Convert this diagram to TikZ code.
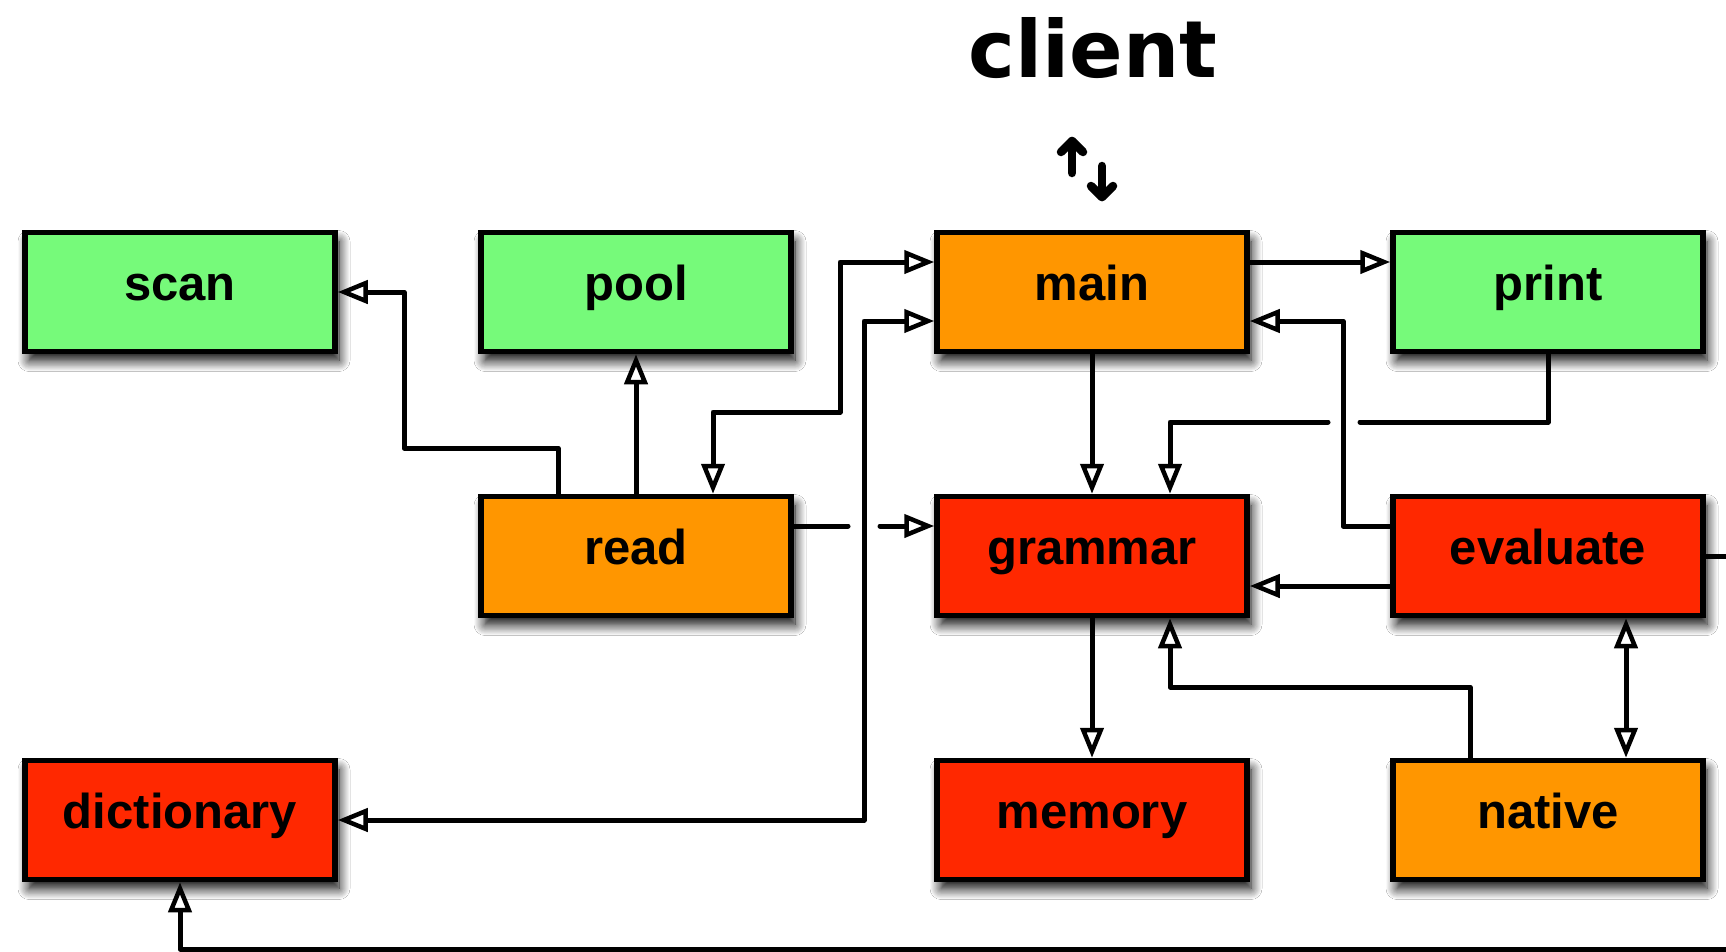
\documentclass[tikz,border=0pt]{standalone}
\usepackage{fontspec}
\setmainfont{Liberation Sans}
\newfontfamily\dejavu{DejaVu Sans}
\usetikzlibrary{arrows.meta,shadows.blur}
\definecolor{boxgreen}{HTML}{76FA7A}
\definecolor{boxorange}{HTML}{FF9600}
\definecolor{boxred}{HTML}{FF2800}
\tikzset{
  tri/.tip={Triangle[length=30pt,width=23pt,fill=white,line width=4.5pt]},
  box/.style={draw=black, line width=5.5pt, minimum width=310pt, minimum height=119pt,
    inner sep=0pt, text height=31pt, text depth=15pt,
    font=\fontsize{49}{50}\selectfont\bfseries,
    blur shadow={shadow xshift=4pt, shadow yshift=-9pt, shadow blur radius=11pt, shadow blur steps=12, shadow opacity=100}},
  gbox/.style={box, fill=boxgreen},
  obox/.style={box, fill=boxorange},
  rbox/.style={box, fill=boxred},
  conn/.style={line width=5pt, line join=round, line cap=round},
  updown/.style={line width=8.5pt, line join=round, line cap=round}
}
\begin{document}
\begin{tikzpicture}[x=1pt,y=-1pt]
\clip (0,0) rectangle (1726,951);
\fill[white] (0,0) rectangle (1726,951);

\node[anchor=base, font=\dejavu\bfseries\fontsize{79}{80}\selectfont] (client) at (1093,77) {client};
\draw[updown] (1072,173) -- (1072,141);
\draw[updown] (1061,152) -- (1072,141) -- (1083,152);
\draw[updown] (1102,166) -- (1102,197);
\draw[updown] (1091,186) -- (1102,197) -- (1113,186);

\node[gbox] (scan) at (180,292) {scan};
\node[gbox] (pool) at (636,292) {pool};
\node[obox] (main) at (1092,292) {main};
\node[gbox] (print) at (1548,292) {print};
\node[obox] (read) at (636,556) {read};
\node[rbox] (grammar) at (1092,556) {grammar};
\node[rbox] (evaluate) at (1548,556) {evaluate};
\node[rbox] (dictionary) at (180,820) {dictionary};
\node[rbox] (memory) at (1092,820) {memory};
\node[obox] (native) at (1548,820) {native};

\coordinate (rs) at (404,448);
\coordinate (rm) at (840,412);
\coordinate (dm) at (864,321);
\coordinate (ga) at (848,526);
\coordinate (gb) at (880,526);
\coordinate (pa) at (1360,422);
\coordinate (pb) at (1328,422);
\coordinate (em) at (1343,321);
\coordinate (ng) at (1170,687);
\coordinate (lr) at (1760,556);
\coordinate (lb) at (180,949);

% read -> scan
\draw[conn,-tri] ([xshift=-78pt]read.north) |- (rs) |- (scan.east);
% read -> pool
\draw[conn,-tri] (read.north) -- (pool.south);
% read <-> main
\draw[conn,tri-tri] ([xshift=77pt]read.north) |- (rm) |- ([yshift=30pt]main.west);
% dictionary <-> main
\draw[conn,tri-tri] (dictionary.east) -| (dm) -- ([yshift=-29pt]main.west);
% read -> grammar (with gap)
\draw[conn] ([yshift=30pt]read.east) -- (ga);
\draw[conn,-tri] (gb) -- ([yshift=30pt]grammar.west);
% main -> print
\draw[conn,-tri] ([yshift=30pt]main.east) -- ([yshift=30pt]print.west);
% main -> grammar
\draw[conn,-tri] (main.south) -- (grammar.north);
% print -> grammar (with gap)
\draw[conn] (print.south) |- (pa);
\draw[conn,-tri] (pb) -| ([xshift=78pt]grammar.north);
% evaluate -> main
\draw[conn,-tri] ([yshift=30pt]evaluate.west) -| (em) -- ([yshift=-29pt]main.east);
% evaluate -> grammar
\draw[conn,-tri] ([yshift=-30pt]evaluate.west) -- ([yshift=-30pt]grammar.east);
% native -> grammar
\draw[conn,-tri] ([xshift=-78pt]native.north) |- (ng) -- ([xshift=78pt]grammar.south);
% evaluate <-> native
\draw[conn,tri-tri] ([xshift=78pt]evaluate.south) -- ([xshift=78pt]native.north);
% grammar -> memory
\draw[conn,-tri] (grammar.south) -- (memory.north);
% evaluate -> dictionary (loop around the edge)
\draw[conn,-tri] (evaluate.east) -- (lr) |- (lb) -- (dictionary.south);
\end{tikzpicture}
\end{document}
